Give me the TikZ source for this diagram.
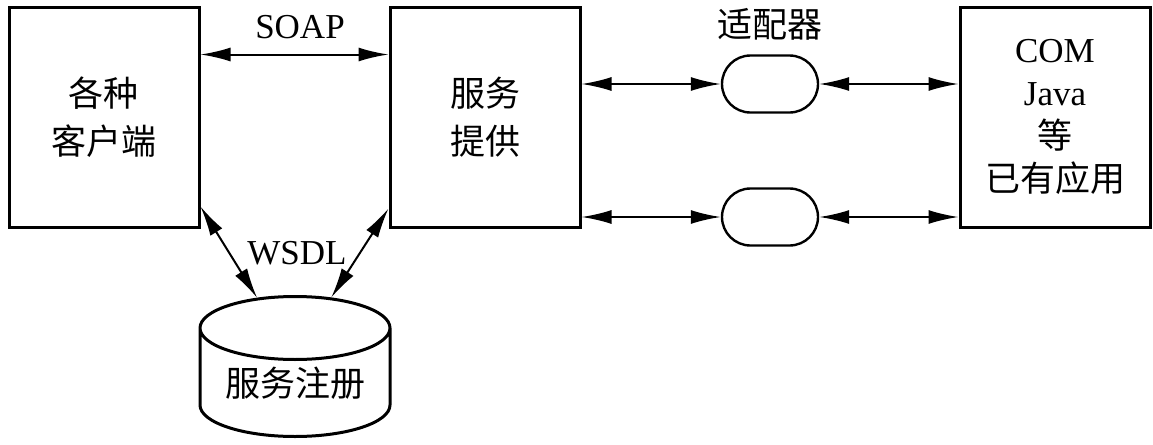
\documentclass[tikz,border=0pt]{standalone}
\usepackage{fontspec}
\setmainfont{Liberation Serif}
\newfontfamily\cjk{Noto Sans CJK SC}
\usetikzlibrary{shapes.geometric}
\usetikzlibrary{shapes.misc}
\usetikzlibrary{arrows.meta}
\tikzset{box/.style = {draw, line width=1.5pt, minimum width=95pt,
                       minimum height=110pt, inner sep=0, align=center,
                       font=\fontsize{17.5}{24}\selectfont}}
\tikzset{adapter/.style = {draw, rounded rectangle, line width=1.2pt,
                           minimum width=48pt, minimum height=28.5pt, inner sep=0}}
\tikzset{store/.style = {draw, cylinder, shape border rotate=90, aspect=0.45,
                         line width=1.5pt, minimum width=95pt, minimum height=70pt,
                         inner sep=0, font=\fontsize{17.5}{20}\selectfont}}
\tikzset{link/.style = {arrows={Latex[length=15pt,width=7pt]-Latex[length=15pt,width=7pt]},
                        line width=1pt}}
\tikzset{lbl/.style = {inner sep=0, font=\fontsize{17.5}{20}\selectfont}}

\begin{document}
\begin{tikzpicture}[x=0.5pt, y=-0.5pt]
    \useasboundingbox[fill=white] (0,0) rectangle (1153,445);
    % boxes
    \node[box] (cli) at (104,117) {\cjk 各种\\\cjk 客户端};
    \node[box] (prov) at (485,117) {\cjk 服务\\\cjk 提供};
    \node[box, font=\fontsize{17.5}{21.5}\selectfont] (app) at (1055,117)
        {COM\\Java\\\cjk 等\\\cjk 已有应用};
    \node[adapter] (ada1) at (770,84) {};
    \node[adapter] (ada2) at (770,217) {};
    \node[store] (reg) at (295,383) {\raisebox{-5pt}{\cjk 服务注册}};
    % labels
    \node[lbl] (soap) at (300,27) {SOAP};
    \node[lbl] (adalbl) at (770,24) {\cjk 适配器};
    \node[lbl] (wsdl) at (297,253) {WSDL};
    % connectors
    \draw[link] ([yshift=-24.5pt]cli.north east) -- ([yshift=-24.5pt]prov.north west);
    \draw[link] (prov.east |- ada1.west) -- (ada1.west);
    \draw[link] (ada1.east) -- (app.west |- ada1.east);
    \draw[link] (prov.east |- ada2.west) -- (ada2.west);
    \draw[link] (ada2.east) -- (app.west |- ada2.east);
    \draw[link] ([yshift=11pt]cli.south east) -- (reg.114);
    \draw[link] ([yshift=10pt]prov.south west) -- (reg.67);
\end{tikzpicture}
\end{document}
